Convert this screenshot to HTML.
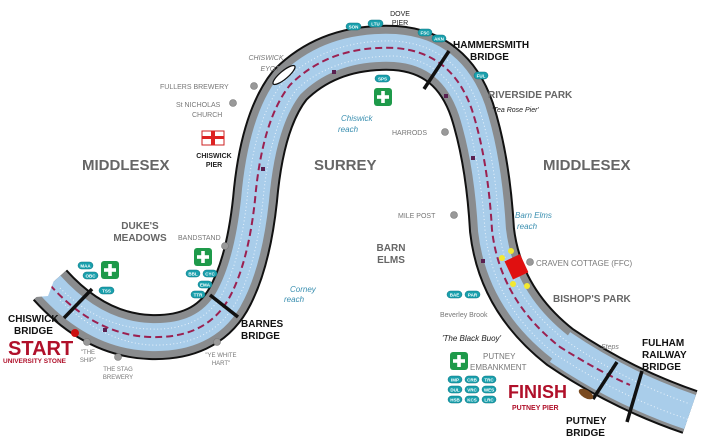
<!DOCTYPE html>
<html><head><meta charset="utf-8"><style>
html,body{margin:0;padding:0;background:#fff;}
svg{display:block;font-family:"Liberation Sans",sans-serif;}
.g{fill:#666;font-weight:bold;}
.lab{fill:#777;font-size:7px;}
.blk{fill:#111;font-weight:bold;font-size:10px;}
.it{fill:#3a8fb0;font-style:italic;font-size:8px;}
</style></head><body>
<svg width="703" height="438" viewBox="0 0 703 438">
<defs>
<g id="cross"><rect x="-9" y="-9" width="18" height="18" rx="3" fill="#1e9a4a"/><rect x="-6" y="-1.8" width="12" height="3.6" fill="#fff"/><rect x="-1.8" y="-6" width="3.6" height="12" fill="#fff"/></g>
</defs>
<g fill="none" stroke-linejoin="round">
<path d="M50,285 Q95,335 150,337 Q205,339 228,300 Q248,265 255,200 Q262,120 290,85 Q330,45 395,48 Q452,52 472,110 Q488,160 492,230 Q500,300 560,347 Q620,388 690,412" stroke="#111" stroke-width="46"/>
<path d="M50,285 Q95,335 150,337 Q205,339 228,300 Q248,265 255,200 Q262,120 290,85 Q330,45 395,48 Q452,52 472,110 Q488,160 492,230 Q500,300 560,347 Q620,388 690,412" stroke="#8a8c8e" stroke-width="42"/>
<path d="M50,285 Q95,335 150,337 Q205,339 228,300 Q248,265 255,200 Q262,120 290,85 Q330,45 395,48 Q452,52 472,110 Q488,160 492,230 Q500,300 560,347 Q620,388 690,412" stroke="#a9cdea" stroke-width="28"/>
<path d="M560,347 Q620,388 690,412" stroke="#a9cdea" stroke-width="36"/>
<path d="M60,288 Q100,328 150,329 Q200,331 221,296 Q240,262 247,200 Q254,116 285,80 Q328,39 395,41 Q458,46 479,108 Q496,160 499,230 Q507,295 565,340 Q622,380 690,404" stroke="#e8f2fb" stroke-width="1" stroke-dasharray="1 2.5"/>
<path d="M60,300 Q103,342 150,345 Q210,347 235,304 Q256,268 263,200 Q270,126 296,90 Q333,56 395,56 Q446,60 465,112 Q480,162 485,230 Q493,305 555,354 Q618,396 690,420" stroke="#e8f2fb" stroke-width="1" stroke-dasharray="1 2.5"/>
<path d="M50,285 Q95,335 150,337 Q205,339 228,300 Q248,265 255,200 Q262,120 290,85 Q330,45 395,48 Q452,52 472,110 Q488,160 492,230 Q500,300 560,347 Q600,372 630,385" stroke="#9b2050" stroke-width="2" stroke-dasharray="7 4"/>
</g>
<path d="M0,300 L48,296 L58,270 Z" fill="#fff"/>
<ellipse cx="284" cy="75" rx="14" ry="4" transform="rotate(-40 284 75)" fill="#fff" stroke="#111" stroke-width="1.3"/>
<g stroke="#111" stroke-width="3.5">
<line x1="64" y1="318" x2="92" y2="289"/>
<line x1="210" y1="295" x2="238" y2="317"/>
<line x1="424" y1="89" x2="449" y2="51"/>
<line x1="593" y1="399" x2="617" y2="362"/>
<line x1="627" y1="422" x2="642" y2="371"/>
</g>
<g fill="#5a2050"><rect x="332" y="70" width="4" height="4"/><rect x="261" y="167" width="4" height="4"/><rect x="444" y="94" width="4" height="4"/><rect x="471" y="156" width="4" height="4"/><rect x="481" y="259" width="4" height="4"/><rect x="103" y="328" width="4" height="4"/></g>
<rect x="508" y="257" width="17" height="20" fill="#e01010" transform="rotate(-25 516 267)"/>
<g fill="#f2e830"><circle cx="502" cy="258" r="3"/><circle cx="511" cy="251" r="3"/><circle cx="513" cy="284" r="3"/><circle cx="527" cy="286" r="3"/></g>
<ellipse cx="586" cy="394" rx="8" ry="4" fill="#7a4a20" transform="rotate(30 586 394)"/>
<g font-size="15" class="g"><text x="82" y="170">MIDDLESEX</text><text x="314" y="170">SURREY</text><text x="543" y="170">MIDDLESEX</text></g>
<g class="g" font-size="10"><text x="140" y="229" text-anchor="middle">DUKE'S</text><text x="140" y="241" text-anchor="middle">MEADOWS</text>
<text x="391" y="251" text-anchor="middle">BARN</text><text x="391" y="263" text-anchor="middle">ELMS</text>
<text x="488" y="98">RIVERSIDE PARK</text><text x="553" y="302">BISHOP'S PARK</text></g>
<g class="lab">
<text x="266" y="60" text-anchor="middle" font-style="italic">CHISWICK</text><text x="270" y="71" text-anchor="middle" font-style="italic">EYOT</text>
<text x="160" y="89">FULLERS BREWERY</text><text x="176" y="107">St NICHOLAS</text><text x="192" y="117">CHURCH</text>
<text x="178" y="240">BANDSTAND</text><text x="392" y="135">HARRODS</text><text x="398" y="218">MILE POST</text>
<text x="536" y="266" font-size="8">CRAVEN COTTAGE (FFC)</text>
<text x="440" y="317">Beverley Brook</text>
<text x="483" y="359" font-size="8">PUTNEY</text><text x="470" y="370" font-size="8">EMBANKMENT</text>
<text x="88" y="354" text-anchor="middle" font-size="6">"THE</text><text x="88" y="362" text-anchor="middle" font-size="6">SHIP"</text>
<text x="118" y="371" text-anchor="middle" font-size="6">THE STAG</text><text x="118" y="379" text-anchor="middle" font-size="6">BREWERY</text>
<text x="221" y="357" text-anchor="middle" font-size="6">"YE WHITE</text><text x="221" y="365" text-anchor="middle" font-size="6">HART"</text>
<text x="601" y="349" font-style="italic">Steps</text>
</g>
<g fill="#999" stroke="#777" stroke-width=".6"><circle cx="254" cy="86" r="3.5"/><circle cx="233" cy="103" r="3.5"/><circle cx="225" cy="246" r="3.5"/><circle cx="445" cy="132" r="3.5"/><circle cx="454" cy="215" r="3.5"/><circle cx="530" cy="262" r="3.5"/><circle cx="87" cy="342" r="3.5"/><circle cx="118" cy="357" r="3.5"/><circle cx="217" cy="342" r="3.5"/></g>
<circle cx="75" cy="333" r="4" fill="#cc1010"/>
<g class="it"><text x="341" y="121">Chiswick</text><text x="338" y="132">reach</text><text x="290" y="292">Corney</text><text x="284" y="302">reach</text><text x="515" y="218">Barn Elms</text><text x="517" y="229">reach</text></g>
<g font-style="italic" fill="#222" font-size="7"><text x="492" y="112">'Tea Rose Pier'</text><text x="442" y="341" font-size="8">'The Black Buoy'</text></g>
<g class="blk"><text x="453" y="48">HAMMERSMITH</text><text x="470" y="60">BRIDGE</text>
<text x="8" y="322">CHISWICK</text><text x="14" y="334">BRIDGE</text>
<text x="241" y="327">BARNES</text><text x="241" y="339">BRIDGE</text>
<text x="642" y="346">FULHAM</text><text x="642" y="358">RAILWAY</text><text x="642" y="370">BRIDGE</text>
<text x="566" y="424">PUTNEY</text><text x="566" y="436">BRIDGE</text></g>
<g fill="#222" font-weight="bold" font-size="7" text-anchor="middle"><text x="214" y="158">CHISWICK</text><text x="214" y="167">PIER</text><text x="400" y="16" font-weight="normal">DOVE</text><text x="400" y="25" font-weight="normal">PIER</text></g>
<g fill="#b0102a" font-weight="bold"><text x="8" y="355" font-size="20">START</text><text x="3" y="363" font-size="6.5">UNIVERSITY STONE</text><text x="508" y="398" font-size="18">FINISH</text><text x="512" y="410" font-size="7">PUTNEY PIER</text></g>
<rect x="202" y="131" width="22" height="14" fill="#fff" stroke="#c22" stroke-width="1"/><rect x="202" y="136" width="22" height="3" fill="#d22"/><rect x="211" y="131" width="4" height="14" fill="#d22"/>
<use href="#cross" x="110" y="270"/><use href="#cross" x="203" y="257"/><use href="#cross" x="383" y="97"/><use href="#cross" x="459" y="361"/>
<g fill="#1aa0ad" stroke="#0d7480" stroke-width=".5">
<rect x="78" y="262" width="15" height="7" rx="3.5"/><rect x="83" y="272" width="15" height="7" rx="3.5"/><rect x="99" y="287" width="15" height="7" rx="3.5"/>
<rect x="186" y="270" width="14" height="7" rx="3.5"/><rect x="203" y="270" width="14" height="7" rx="3.5"/><rect x="198" y="281" width="14" height="7" rx="3.5"/><rect x="191" y="291" width="14" height="7" rx="3.5"/>
<rect x="346" y="23" width="15" height="7" rx="3.5"/><rect x="368" y="20" width="15" height="7" rx="3.5"/><rect x="418" y="29" width="14" height="7" rx="3.5"/><rect x="432" y="35" width="14" height="7" rx="3.5"/><rect x="474" y="72" width="14" height="7" rx="3.5"/><rect x="375" y="75" width="15" height="7" rx="3.5"/>
<rect x="447" y="291" width="15" height="7" rx="3.5"/><rect x="465" y="291" width="15" height="7" rx="3.5"/>
<rect x="448" y="376" width="14" height="7" rx="3.5"/><rect x="465" y="376" width="14" height="7" rx="3.5"/><rect x="482" y="376" width="14" height="7" rx="3.5"/>
<rect x="448" y="386" width="14" height="7" rx="3.5"/><rect x="465" y="386" width="14" height="7" rx="3.5"/><rect x="482" y="386" width="14" height="7" rx="3.5"/>
<rect x="448" y="396" width="14" height="7" rx="3.5"/><rect x="465" y="396" width="14" height="7" rx="3.5"/><rect x="482" y="396" width="14" height="7" rx="3.5"/>
</g>
<g fill="#fff" font-size="4.5" font-weight="bold" text-anchor="middle">
<text x="85.5" y="267.5">MAA</text><text x="90.5" y="277.5">OBC</text><text x="106.5" y="292.5">TSS</text>
<text x="193" y="275.5">BBL</text><text x="210" y="275.5">CYC</text><text x="205" y="286.5">EMA</text><text x="198" y="296.5">TTR</text>
<text x="353.5" y="28.5">SON</text><text x="375.5" y="25.5">LTU</text><text x="425" y="34.5">FSC</text><text x="439" y="40.5">AKN</text><text x="481" y="77.5">FUL</text><text x="382.5" y="80.5">SPS</text>
<text x="454.5" y="296.5">BAE</text><text x="472.5" y="296.5">PAR</text>
<text x="455" y="381.5">IMP</text><text x="472" y="381.5">CRB</text><text x="489" y="381.5">TRC</text>
<text x="455" y="391.5">DUL</text><text x="472" y="391.5">VRC</text><text x="489" y="391.5">WES</text>
<text x="455" y="401.5">HSB</text><text x="472" y="401.5">KCS</text><text x="489" y="401.5">LRC</text>
</g>
</svg>
</body></html>
